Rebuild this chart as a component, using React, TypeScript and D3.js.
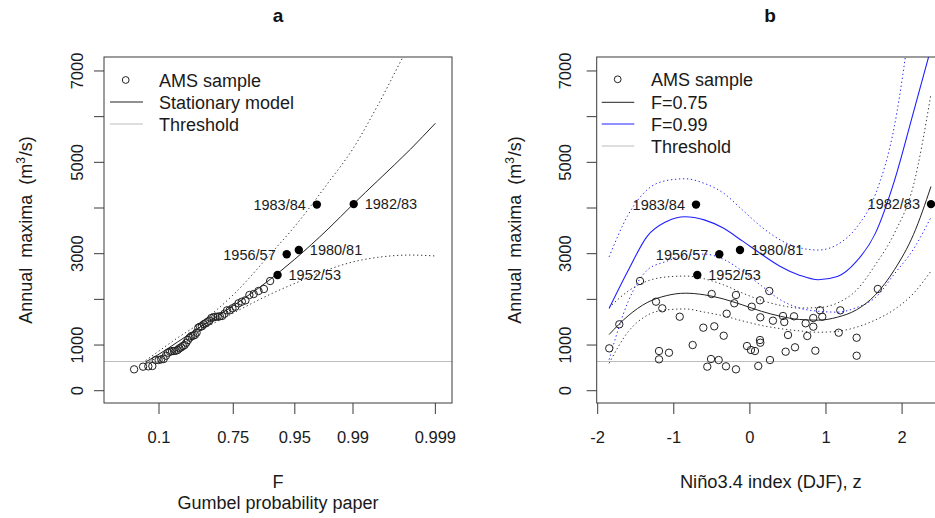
import React from 'react';
import * as d3 from 'd3';

// ---------- data ----------
// AMS sample (open circles): Niño3.4 index z and annual maximum discharge
const sampleZ = [-1.848, -1.716, -1.444, -1.234, -1.151, -1.194, -1.194, -1.063, -0.922, -0.752, -0.612, -0.468, -0.502, -0.344, -0.560, -0.511, -0.410, -0.314, -0.183, -0.183, -0.205, -0.305, -0.038, 0.014, 0.067, 0.133, 0.137, 0.110, 0.024, 0.133, 0.255, 0.137, 0.264, 0.303, 0.435, 0.452, 0.580, 0.501, 0.470, 0.593, 0.733, 0.754, 0.833, 0.833, 0.921, 0.951, 0.860, 1.188, 1.167, 1.403, 1.403, 1.681];
const sampleQ = [928, 1454, 2402, 1949, 1804, 869, 687, 832, 1620, 1000, 1380, 1410, 2117, 1204, 526, 694, 672, 534, 468, 2095, 1914, 1686, 979, 891, 869, 1110, 1051, 541, 1839, 1979, 2183, 1607, 672, 1533, 1636, 1504, 1629, 1220, 854, 950, 1476, 1198, 1402, 1592, 1760, 1620, 876, 1760, 1270, 1160, 766, 2227];

// labelled events (filled circles)
const eventNames = ['1983/84', '1982/83', '1980/81', '1956/57', '1952/53'];
const eventZ = [-0.708, 2.38, -0.130, -0.402, -0.691];
const eventQ = [4075, 4085, 3081, 2986, 2533];
const eventSideA = ['left', 'right', 'right', 'left', 'right'];
const eventSideB = ['left', 'left', 'right', 'left', 'right'];

const threshold = 640;

// Panel a: stationary model on Gumbel paper
const probGrid = [0.035, 0.1, 0.25, 0.5, 0.75, 0.9, 0.95, 0.98, 0.99, 0.995, 0.998, 0.999];
const statMedian = [630, 800, 1060, 1420, 1860, 2420, 2880, 3540, 4080, 4600, 5290, 5855];
const statUpper = [660, 870, 1150, 1510, 2100, 2960, 3600, 4550, 5300, 6250, 7600, 8400];
const statLower = [610, 740, 960, 1330, 1700, 2100, 2350, 2650, 2820, 2920, 2970, 2950];
const probTicks = [0.1, 0.75, 0.95, 0.99, 0.999];

// Panel b: non-stationary model vs z
const zGrid = [-1.85, -1.6, -1.35, -1.1, -0.85, -0.6, -0.35, -0.1, 0.15, 0.4, 0.65, 0.9, 1.15, 1.4, 1.65, 1.9, 2.15, 2.38];
const q75 = [1230, 1640, 1930, 2080, 2135, 2100, 2010, 1880, 1740, 1630, 1560, 1545, 1610, 1770, 2100, 2650, 3420, 4470];
const q75Upper = [1820, 2180, 2400, 2490, 2510, 2450, 2320, 2140, 1980, 1870, 1810, 1820, 1920, 2200, 2760, 3450, 4500, 6500];
const q75Lower = [600, 1290, 1650, 1770, 1790, 1720, 1640, 1530, 1430, 1360, 1310, 1280, 1300, 1390, 1550, 1780, 2130, 2620];
const q99 = [1800, 2630, 3380, 3700, 3810, 3740, 3560, 3280, 2990, 2720, 2530, 2430, 2500, 2830, 3450, 4600, 6100, 7500];
const q99Upper = [2930, 3850, 4400, 4600, 4640, 4540, 4330, 3960, 3590, 3300, 3130, 3080, 3200, 3570, 4300, 5800, 8600, 11500];
const q99Lower = [680, 1950, 2640, 2830, 2960, 2990, 2880, 2620, 2300, 1990, 1810, 1740, 1720, 1820, 2040, 2560, 3100, 3800];
const zTicks = [-2, -1, 0, 1, 2];

const yTicks = [0, 1000, 2000, 3000, 4000, 5000, 6000, 7000];
const yTickLabels = ['0', '1000', '', '3000', '', '5000', '', '7000'];

// ---------- layout ----------
const W = 935;
const H = 518;
const FONT = 'Liberation Sans, Arial, Helvetica, sans-serif';
const boxA = { l: 104, r: 452, t: 57, b: 403 };
const boxB = { l: 596.7, r: 945, t: 57, b: 403 };
const AXIS = '#3a3a3a';
const BLUE = '#2020ff';
const TXT = '#1a1a1a';

const gumbel = (F: number) => -Math.log(-Math.log(F));

const yScale = d3.scaleLinear().domain([-269, 7306]).range([403, 57]);
const xA = d3.scaleLinear().domain([-2.375, 7.373]).range([boxA.l, boxA.r]);
const xB = d3.scaleLinear().domain([-2.013, 2.564]).range([boxB.l, boxB.r]);

function pathFrom(xs: number[], ys: number[], xf: (v: number) => number) {
  const pts: [number, number][] = xs.map((x, i) => [xf(x), yScale(ys[i])]);
  return d3.line().curve(d3.curveMonotoneX)(pts) || '';
}

function YAxis({ box, labelX, titleX }: { box: any; labelX: number; titleX: number }) {
  return (
    <g>
      {yTicks.map((t, i) => (
        <g key={t}>
          <line x1={box.l - 10} x2={box.l} y1={yScale(t)} y2={yScale(t)} stroke={AXIS} />
          {yTickLabels[i] && (
            <text
              transform={`translate(${labelX},${yScale(t)}) rotate(-90)`}
              textAnchor="middle"
              fontSize={16.5}
              fill={TXT}
            >
              {yTickLabels[i]}
            </text>
          )}
        </g>
      ))}
      <text
        transform={`translate(${titleX},${(box.t + box.b) / 2}) rotate(-90)`}
        textAnchor="middle"
        fontSize={18}
        fill={TXT}
        style={{ wordSpacing: '5px' }}
      >
        Annual maxima (m<tspan dy={-7} fontSize={12}>3</tspan>
        <tspan dy={7} dx={1}>/s)</tspan>
      </text>
    </g>
  );
}

export default function App() {
  // Panel a points: sorted sample with Gringorten plotting positions
  const all = [
    ...sampleQ.map((q) => ({ q, filled: false })),
    ...eventQ.map((q, i) => ({ q, filled: true, idx: i })),
  ].sort((a, b) => a.q - b.q);
  const n = all.length;
  const ptsA = all.map((d, i) => ({ ...d, F: (i + 1 - 0.44) / (n + 0.12) }));

  const gA = probGrid.map(gumbel);

  return (
    <svg width={W} height={H} style={{ position: 'absolute', left: 0, top: 0, background: '#fff' }} fontFamily={FONT}>
      <defs>
        <clipPath id="clipA">
          <rect x={boxA.l} y={boxA.t} width={boxA.r - boxA.l} height={boxA.b - boxA.t} />
        </clipPath>
        <clipPath id="clipB">
          <rect x={boxB.l} y={boxB.t} width={boxB.r - boxB.l} height={boxB.b - boxB.t} />
        </clipPath>
      </defs>
      <rect x={0} y={0} width={W} height={H} fill="#fff" />

      {/* ================= Panel a ================= */}
      <text x={(boxA.l + boxA.r) / 2} y={22} textAnchor="middle" fontWeight="bold" fontSize={19} fill="#111">a</text>
      <g clipPath="url(#clipA)">
        <line x1={boxA.l} x2={boxA.r} y1={yScale(threshold)} y2={yScale(threshold)} stroke="#bdbdbd" strokeWidth={1.2} />
        <path d={pathFrom(gA, statUpper, xA)} fill="none" stroke="#333" strokeDasharray="1.3 2.7" />
        <path d={pathFrom(gA, statLower, xA)} fill="none" stroke="#333" strokeDasharray="1.3 2.7" />
        <path d={pathFrom(gA, statMedian, xA)} fill="none" stroke="#222" strokeWidth={1} />
        {ptsA.map((p, i) =>
          p.filled ? (
            <circle key={i} cx={xA(gumbel(p.F))} cy={yScale(p.q)} r={4.2} fill="#000" />
          ) : (
            <circle key={i} cx={xA(gumbel(p.F))} cy={yScale(p.q)} r={3.7} fill="none" stroke="#222" strokeWidth={1} />
          )
        )}
      </g>
      {ptsA.filter((p) => p.filled).map((p: any) => {
        const side = eventSideA[p.idx];
        const cx = xA(gumbel(p.F));
        return (
          <text
            key={p.idx}
            x={side === 'left' ? cx - 11 : cx + 11}
            y={yScale(p.q) + 5.2}
            textAnchor={side === 'left' ? 'end' : 'start'}
            fontSize={14.5}
            fill={TXT}
          >
            {eventNames[p.idx]}
          </text>
        );
      })}
      <rect x={boxA.l} y={boxA.t} width={boxA.r - boxA.l} height={boxA.b - boxA.t} fill="none" stroke={AXIS} />
      {probTicks.map((f) => (
        <g key={f}>
          <line x1={xA(gumbel(f))} x2={xA(gumbel(f))} y1={boxA.b} y2={boxA.b + 11} stroke={AXIS} />
          <text x={xA(gumbel(f))} y={443} textAnchor="middle" fontSize={16.5} fill={TXT}>{f}</text>
        </g>
      ))}
      <YAxis box={boxA} labelX={83} titleX={32} />
      <text x={(boxA.l + boxA.r) / 2} y={488} textAnchor="middle" fontSize={18} fill={TXT}>F</text>
      <text x={(boxA.l + boxA.r) / 2} y={509} textAnchor="middle" fontSize={18} fill={TXT}>Gumbel probability paper</text>
      {/* legend a */}
      <circle cx={125.7} cy={80} r={3.4} fill="none" stroke="#222" strokeWidth={1} />
      <line x1={110} x2={143} y1={102} y2={102} stroke="#222" />
      <line x1={110} x2={143} y1={124} y2={124} stroke="#bdbdbd" strokeWidth={1.2} />
      <text x={159} y={87} fontSize={18} fill={TXT}>AMS sample</text>
      <text x={159} y={108.7} fontSize={18} fill={TXT}>Stationary model</text>
      <text x={159} y={130.5} fontSize={18} fill={TXT}>Threshold</text>

      {/* ================= Panel b ================= */}
      <text x={770} y={22} textAnchor="middle" fontWeight="bold" fontSize={19} fill="#111">b</text>
      <g clipPath="url(#clipB)">
        <line x1={boxB.l} x2={boxB.r} y1={yScale(threshold)} y2={yScale(threshold)} stroke="#bdbdbd" strokeWidth={1.2} />
        <path d={pathFrom(zGrid, q99Upper, xB)} fill="none" stroke={BLUE} strokeDasharray="1.3 2.7" />
        <path d={pathFrom(zGrid, q99Lower, xB)} fill="none" stroke={BLUE} strokeDasharray="1.3 2.7" />
        <path d={pathFrom(zGrid, q99, xB)} fill="none" stroke={BLUE} strokeWidth={1.1} />
        <path d={pathFrom(zGrid, q75Upper, xB)} fill="none" stroke="#333" strokeDasharray="1.3 2.7" />
        <path d={pathFrom(zGrid, q75Lower, xB)} fill="none" stroke="#333" strokeDasharray="1.3 2.7" />
        <path d={pathFrom(zGrid, q75, xB)} fill="none" stroke="#222" strokeWidth={1} />
        {sampleZ.map((z, i) => (
          <circle key={i} cx={xB(z)} cy={yScale(sampleQ[i])} r={3.7} fill="none" stroke="#222" strokeWidth={1} />
        ))}
        {eventZ.map((z, i) => (
          <circle key={'e' + i} cx={xB(z)} cy={yScale(eventQ[i])} r={4.2} fill="#000" />
        ))}
      </g>
      {eventZ.map((z, i) => {
        const side = eventSideB[i];
        return (
          <text
            key={'l' + i}
            x={side === 'left' ? xB(z) - 11 : xB(z) + 11}
            y={yScale(eventQ[i]) + 5.2}
            textAnchor={side === 'left' ? 'end' : 'start'}
            fontSize={14.5}
            fill={TXT}
          >
            {eventNames[i]}
          </text>
        );
      })}
      <rect x={boxB.l} y={boxB.t} width={boxB.r - boxB.l} height={boxB.b - boxB.t} fill="none" stroke={AXIS} />
      {zTicks.map((t) => (
        <g key={t}>
          <line x1={xB(t)} x2={xB(t)} y1={boxB.b} y2={boxB.b + 11} stroke={AXIS} />
          <text x={xB(t)} y={443} textAnchor="middle" fontSize={16.5} fill={TXT}>{t}</text>
        </g>
      ))}
      <YAxis box={boxB} labelX={571} titleX={521} />
      <text x={(boxB.l + boxB.r) / 2} y={487.5} textAnchor="middle" fontSize={18.3} fill={TXT}>Niño3.4 index (DJF), z</text>
      {/* legend b */}
      <circle cx={617.7} cy={79.3} r={3.4} fill="none" stroke="#222" strokeWidth={1} />
      <line x1={601.7} x2={634.3} y1={102.3} y2={102.3} stroke="#222" />
      <line x1={601.7} x2={634.3} y1={124} y2={124} stroke={BLUE} />
      <line x1={601.7} x2={634.3} y1={146} y2={146} stroke="#bdbdbd" strokeWidth={1.2} />
      <text x={651} y={86} fontSize={18} fill={TXT}>AMS sample</text>
      <text x={651} y={109} fontSize={18} fill={TXT}>F=0.75</text>
      <text x={651} y={130.5} fontSize={18} fill={TXT}>F=0.99</text>
      <text x={651} y={152.5} fontSize={18} fill={TXT}>Threshold</text>
    </svg>
  );
}
